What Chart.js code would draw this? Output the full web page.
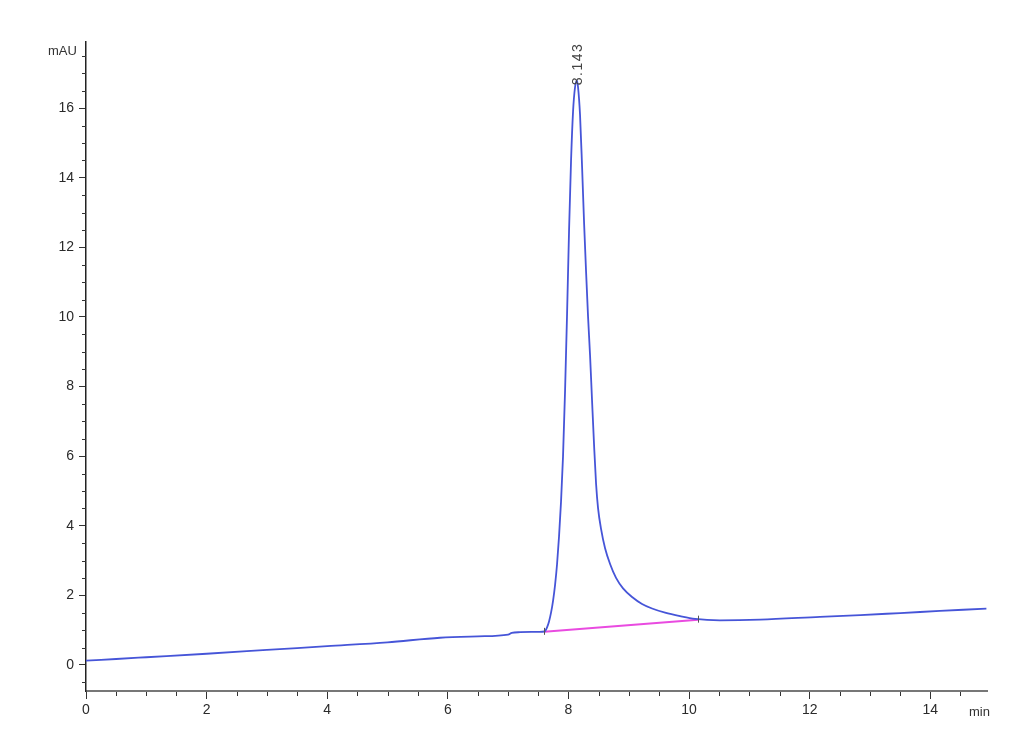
<!DOCTYPE html>
<html>
<head>
<meta charset="utf-8">
<script src="https://cdn.jsdelivr.net/npm/chart.js@4.4.1/dist/chart.umd.min.js"></script>
<style>
  html, body { margin: 0; padding: 0; background: #ffffff; }
  #wrap { width: 1030px; height: 755px; position: relative; }
</style>
</head>
<body>
<div id="wrap"><canvas id="c" width="1030" height="755"></canvas></div>
<script>
// ---- data ----
const times = [0, 0.5, 1, 2, 3, 4, 5, 5.87, 6.5, 7.0, 7.06, 7.2, 7.5, 7.6,
  7.612, 7.645, 7.678, 7.711, 7.745, 7.778, 7.811, 7.844, 7.877, 7.910, 7.944, 7.977, 8.010, 8.043, 8.076, 8.109,
  8.140,
  8.159, 8.192, 8.226, 8.259, 8.292, 8.325, 8.358, 8.391, 8.425, 8.458, 8.491, 8.541, 8.607, 8.690, 8.789, 8.905,
  9.055, 9.220, 9.386, 9.602, 9.851, 10.100,
  10.51, 11.18, 12.17, 12.84, 13.50, 14.16, 14.93];
const signal = [0.12, 0.17, 0.22, 0.32, 0.43, 0.54, 0.65, 0.78, 0.82, 0.87, 0.92, 0.94, 0.95, 0.96,
  0.97, 1.08, 1.25, 1.50, 1.85, 2.30, 2.90, 3.70, 4.70, 6.00, 7.90, 10.10, 12.50, 14.50, 15.90, 16.60,
  16.80,
  16.60, 15.80, 14.30, 12.70, 11.30, 10.00, 8.90, 7.60, 6.30, 5.20, 4.50, 3.90, 3.35, 2.90, 2.50, 2.20,
  1.95, 1.75, 1.62, 1.50, 1.40, 1.32,
  1.28, 1.30, 1.38, 1.43, 1.49, 1.55, 1.62];
const baselineTimes = [7.60, 10.15];
const baselineValues = [0.95, 1.30];
const peakTime = 8.143;
const peakValue = 16.80;
const peakLabel = "8.143";
const xMajorTicks = [0, 2, 4, 6, 8, 10, 12, 14];
const yMajorTicks = [0, 2, 4, 6, 8, 10, 12, 14, 16];
const xUnit = "min";
const yUnit = "mAU";

const traceData = times.map((t, i) => ({ x: t, y: signal[i] }));
const baseData = baselineTimes.map((t, i) => ({ x: t, y: baselineValues[i] }));

const FONT = "'Liberation Sans', Arial, sans-serif";

const decor = {
  id: 'decor',
  afterDraw(chart) {
    const { ctx, scales: { x, y }, chartArea } = chart;
    ctx.save();
    // minor ticks
    ctx.strokeStyle = '#333';
    ctx.lineWidth = 1;
    for (let v = 0; v <= x.max + 1e-9; v += 0.5) {
      if (Math.abs(v % 2) < 1e-9) continue;
      const px = Math.round(x.getPixelForValue(v)) + 0.5;
      ctx.beginPath();
      ctx.moveTo(px, chartArea.bottom + 1);
      ctx.lineTo(px, chartArea.bottom + 5);
      ctx.stroke();
    }
    for (let v = -0.5; v <= y.max + 1e-9; v += 0.5) {
      if (Math.abs(v % 2) < 1e-9) continue;
      const py = Math.round(y.getPixelForValue(v)) + 0.5;
      ctx.beginPath();
      ctx.moveTo(chartArea.left - 4, py);
      ctx.lineTo(chartArea.left, py);
      ctx.stroke();
    }
    // baseline end markers
    ctx.strokeStyle = '#555';
    baseData.forEach(p => {
      const px = Math.round(x.getPixelForValue(p.x)) + 0.5;
      const py = y.getPixelForValue(p.y);
      ctx.beginPath();
      ctx.moveTo(px, py - 4);
      ctx.lineTo(px, py + 3);
      ctx.stroke();
    });
    // axis unit labels
    ctx.fillStyle = '#333';
    ctx.font = "13px " + FONT;
    ctx.textBaseline = 'middle';
    ctx.textAlign = 'left';
    ctx.fillText(yUnit, 48, 51);
    ctx.fillText(xUnit, 969, 712);
    // peak label, rotated
    const lx = x.getPixelForValue(peakTime) + 1;
    const ly = y.getPixelForValue(peakValue) + 5;
    ctx.translate(lx, ly);
    ctx.rotate(-Math.PI / 2);
    ctx.font = "14px " + FONT;
    ctx.letterSpacing = '1.5px';
    ctx.textAlign = 'left';
    ctx.textBaseline = 'middle';
    ctx.fillStyle = '#444';
    ctx.fillText(peakLabel, 0, 0);
    ctx.restore();
  }
};

new Chart(document.getElementById('c'), {
  type: 'scatter',
  data: {
    datasets: [
      {
        data: baseData,
        showLine: true,
        borderColor: '#e94be0',
        borderWidth: 2,
        pointRadius: 0,
        order: 2
      },
      {
        data: traceData,
        showLine: true,
        borderColor: '#4655d8',
        borderWidth: 1.8,
        pointRadius: 0,
        cubicInterpolationMode: 'monotone',
        order: 1
      }
    ]
  },
  options: {
    responsive: false,
    animation: false,
    devicePixelRatio: 1,
    layout: { padding: { top: 42, right: 43, left: 0, bottom: 0 } },
    plugins: { legend: { display: false }, tooltip: { enabled: false } },
    scales: {
      x: {
        type: 'linear',
        min: 0,
        max: 14.94,
        afterFit(s) { s.height = 64; },
        afterBuildTicks(s) { s.ticks = xMajorTicks.map(v => ({ value: v })); },
        border: { display: true, color: '#777', width: 2 },
        grid: { display: true, drawOnChartArea: false, tickLength: 8, tickColor: '#333', tickWidth: 1 },
        ticks: {
          padding: 3,
          color: '#2a2a2a',
          font: { family: FONT, size: 14 },
          maxRotation: 0,
          autoSkip: false
        }
      },
      y: {
        type: 'linear',
        min: -0.75,
        max: 17.9,
        afterFit(s) { s.width = 86; },
        afterBuildTicks(s) { s.ticks = yMajorTicks.map(v => ({ value: v })); },
        border: { display: true, color: '#222', width: 1.5 },
        grid: { display: true, drawOnChartArea: false, tickLength: 7, tickColor: '#333', tickWidth: 1 },
        ticks: {
          padding: 5,
          color: '#2a2a2a',
          font: { family: FONT, size: 14 },
          autoSkip: false
        }
      }
    }
  },
  plugins: [decor]
});
</script>
</body>
</html>
